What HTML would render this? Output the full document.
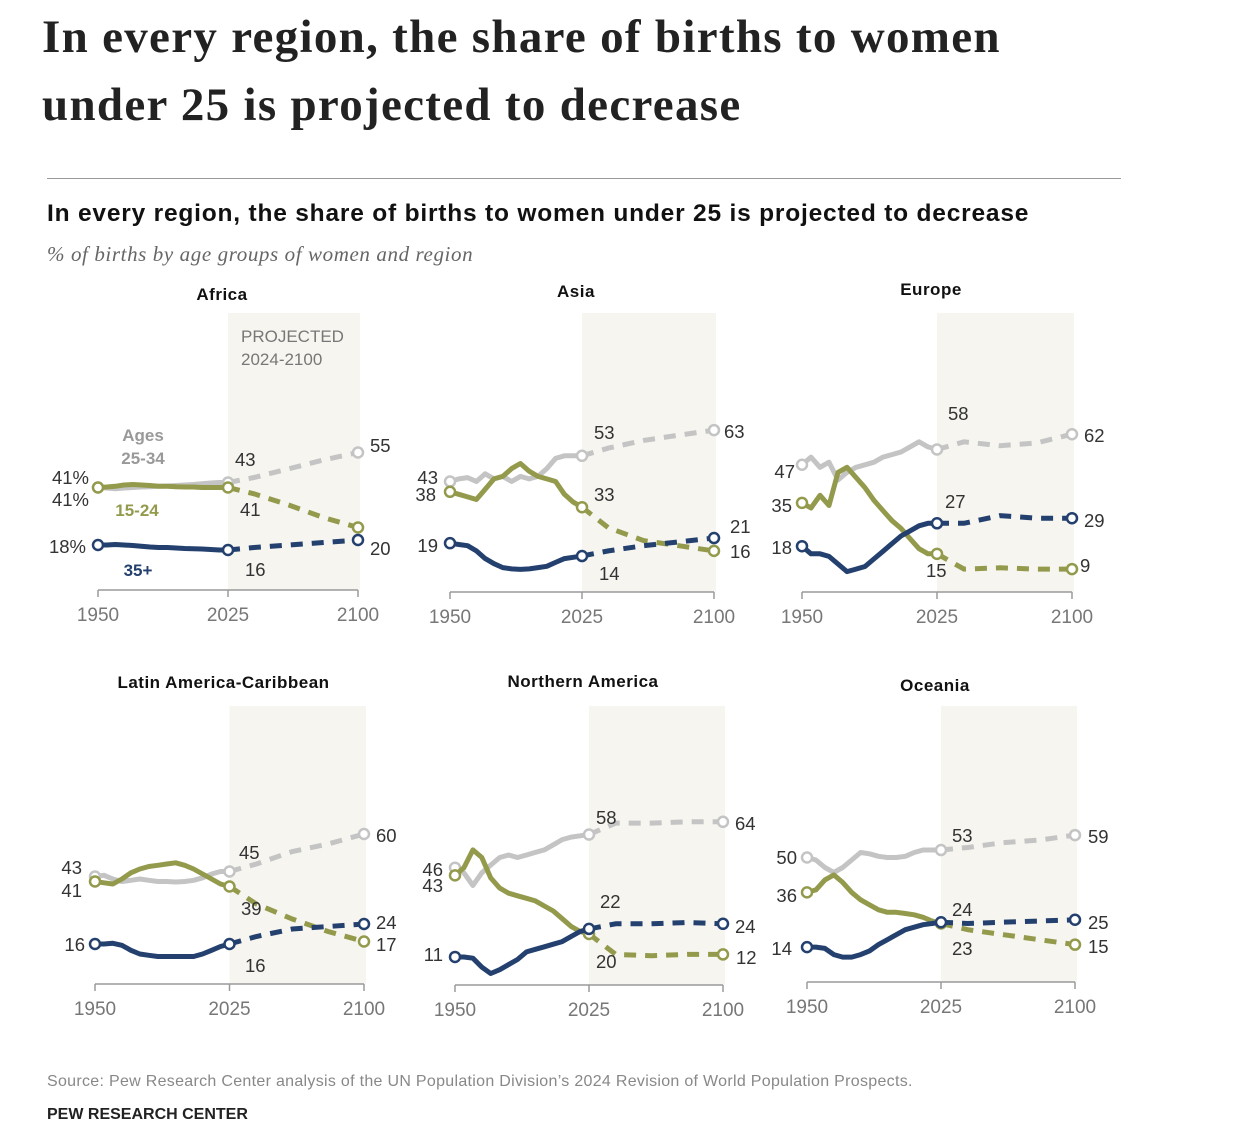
<!DOCTYPE html>
<html><head><meta charset="utf-8"><style>
body{margin:0;background:#fff;width:1252px;height:1138px;overflow:hidden;position:relative;font-family:"Liberation Sans",sans-serif}
#t{position:absolute;left:42px;top:3px;font-family:"Liberation Serif",serif;font-weight:bold;font-size:47px;line-height:68px;color:#222;letter-spacing:1.3px}
#rule{position:absolute;left:47px;top:178px;width:1074px;height:1px;background:#999}
#st{position:absolute;left:47px;top:200px;font-weight:bold;font-size:24.5px;color:#111;letter-spacing:0.8px}
#sub{position:absolute;left:47px;top:242px;font-family:"Liberation Serif",serif;font-style:italic;font-size:21px;color:#666;letter-spacing:0.6px}
#src{position:absolute;left:47px;top:1073px;font-size:16px;color:#888;letter-spacing:0.3px}
#pew{position:absolute;left:47px;top:1106px;font-size:16px;font-weight:bold;color:#222}
svg{position:absolute;left:0;top:0}
</style></head><body>
<div id="t">In every region, the share of births to women<br>under 25 is projected to decrease</div>
<div id="rule"></div>
<div id="st">In every region, the share of births to women under 25 is projected to decrease</div>
<div id="sub">% of births by age groups of women and region</div>
<div id="src">Source: Pew Research Center analysis of the UN Population Division’s 2024 Revision of World Population Prospects.</div>
<div id="pew">PEW RESEARCH CENTER</div>
<svg id="c" width="1252" height="1138"></svg>
<script>
const years=[1950,1955,1960,1965,1970,1975,1980,1985,1990,1995,2000,2005,2010,2015,2020,2025,2040,2060,2080,2100];
const regions=["Africa","Asia","Europe","Latin America-Caribbean","Northern America","Oceania"];
const africaG=[41,40.8,40.5,40.8,41,41.2,41.3,41.5,41.6,41.8,42,42.2,42.5,42.8,43,43,45,48.5,52,55];
const africaO=[41,41.2,41.5,42,42.2,42,41.8,41.5,41.5,41.3,41.2,41.2,41,41,41,41,38.5,34,29,25];
const africaN=[18,18,18.2,18,17.8,17.5,17.2,17,17,16.8,16.6,16.5,16.4,16.2,16,16,17,18,19,20];
const asiaG=[43,44,44.5,43,46,44,45,43,45,44,45,48,52,53,53,53,56,59,61,63];
const asiaO=[39,38,37,36,40,44,45,48,50,47,45,44,43,38,35,33,25,20,18,16];
const asiaN=[19,18.5,18,16,13,11,9.5,9,8.8,9,9.5,10,11.5,13,13.5,14,16,18,19.5,21];
const europeG=[50,53,49,51,44,47,49,50,51,53,54,55,57,59,57,56,59,57.5,58.5,62];
const europeO=[35,33,38,34,47,49,45,41,36,32,28,25,21,17,15,15,9,9.5,9,9];
const europeN=[18,15,15,14,11,8,9,10,13,16,19,22,24,26,27,27,27,30,29,29];
const latamG=[43,43.5,42,41,41.5,42,41.5,41,41,40.8,41,41.5,42.5,44,45,45,48,53,56,60];
const latamO=[41,40.5,40,42,44.5,46,47,47.5,48,48.5,47.5,46,44,42,40,39,32,26,21,17];
const latamN=[16,16,16.3,15.5,13.5,12,11.5,11,11,11,11,11,12,13.5,15,16,19,22,23,24];
const namG=[46,44,39,44,47,50,51,50,51,52,53,55,57,58,58.5,59,63.5,63.5,64,64];
const namO=[43,46,53,50,42,38,36,35,34,33,31,29,26,23,21,20,12,11.5,12,12];
const namN=[11,11,10.5,7,4.5,6,8,10,13,14,15,16,17,19,21,22,24,24,24.5,24];
const oceG=[50,49,46,44,46,49,52,51.5,50.5,50,50,50.5,52,53,53,53,54,56,57,59];
const oceO=[36,37,41,43,40,36,33,31,29,28,28,27.5,27,26,24.5,23.5,21,19,17,15];
const oceN=[14,14,13.5,11,10,10,11,12.5,15,17,19,21,22,23,23.5,24,23.5,24,24.5,25];
const seriesG=[africaG,asiaG,europeG,latamG,namG,oceG];
const seriesO=[africaO,asiaO,europeO,latamO,namO,oceO];
const seriesN=[africaN,asiaN,europeN,latamN,namN,oceN];
const tickYears=[1950,2025,2100];
const geo=[[98,358,590,2.5,313,300],[450,714,592,2.57,313,297],[802,1072,592,2.545,313,295],
[95,364,984,2.5,706,688],[455,723,985,2.55,706,687],[807,1075,982,2.49,706,691]];
const COL={g:"#c4c4c4",o:"#949a4c",n:"#24406e"};
const NS="http://www.w3.org/2000/svg",svg=document.getElementById('c');
function mk(t,a,p){const e=document.createElementNS(NS,t);for(const k in a)e.setAttribute(k,a[k]);(p||svg).appendChild(e);return e;}
geo.forEach((g,i)=>{
  const [x0,x1,y0,s,st,ty]=g;
  const X=yr=>x0+(yr-1950)/150*(x1-x0), Y=v=>y0-v*s;
  const grp=mk('g',{});
  
  
  const sh=mk('rect',{x:X(2025),y:st,width:X(2100)-X(2025)+2,height:y0-st,fill:"#f6f5f0"},grp);
  
  const ax=mk('line',{x1:X(1950),x2:X(2100),y1:y0,y2:y0,stroke:"#9a9a9a","stroke-width":1.5},grp);
  
  tickYears.forEach(t=>{
    mk('line',{x1:X(t),x2:X(t),y1:y0,y2:y0+7,stroke:"#9a9a9a","stroke-width":1.5},grp);
    const tx=mk('text',{x:X(t),y:y0+31,"text-anchor":"middle","font-size":19,fill:"#777"},grp);tx.textContent=t;
    
  });
  const tt=mk('text',{x:(X(1950)+X(2100))/2-6,y:ty,"text-anchor":"middle","font-size":17,"font-weight":"bold",fill:"#111","letter-spacing":0.5},grp);
  tt.textContent=regions[i];
  [['g',seriesG[i]],['o',seriesO[i]],['n',seriesN[i]]].forEach(([k,vals])=>{
    const hist=[],proj=[];
    years.forEach((yr,j)=>{const p=X(yr).toFixed(1)+','+Y(vals[j]).toFixed(1);if(yr<=2025)hist.push(p);if(yr>=2025)proj.push(p);});
    const l1=mk('polyline',{points:hist.join(' '),fill:"none",stroke:COL[k],"stroke-width":5,"stroke-linejoin":"round","stroke-linecap":"round"},grp);
    
    const l2=mk('polyline',{points:proj.join(' '),fill:"none",stroke:COL[k],"stroke-width":5,"stroke-dasharray":"12 9"},grp);
    
    [0,15,19].forEach(j=>{const c=mk('circle',{cx:X(years[j]),cy:Y(vals[j]),r:5,fill:"#fff",stroke:COL[k],"stroke-width":2.5},grp);
      });
  });
});
const labs=[
[241,342,"PROJECTED",'#777',17,'start'],[241,365,"2024-2100",'#777',17,'start'],
[143,441,"Ages",'#999',17,'middle','bold'],[143,464,"25-34",'#999',17,'middle','bold'],
[137,516,"15-24",'#949a4c',17,'middle','bold'],[138,576,"35+",'#24406e',17,'middle','bold'],
[89,484,"41%"],[89,506,"41%"],[86,553,"18%"],[235,466,"43"],[240,516,"41"],[245,576,"16"],[370,452,"55"],[370,555,"20"],
[438,484,"43"],[436,501,"38"],[438,552,"19"],[594,439,"53"],[594,501,"33"],[599,580,"14"],[724,438,"63"],[730,533,"21"],[730,558,"16"],
[795,478,"47"],[792,512,"35"],[792,554,"18"],[948,420,"58"],[945,508,"27"],[926,577,"15"],[1084,442,"62"],[1084,527,"29"],[1080,572,"9"],
[82,874,"43"],[82,897,"41"],[85,951,"16"],[239,859,"45"],[241,915,"39"],[245,972,"16"],[376,842,"60"],[376,929,"24"],[376,951,"17"],
[443,876,"46"],[443,892,"43"],[443,961,"11"],[596,824,"58"],[600,908,"22"],[596,968,"20"],[735,830,"64"],[735,933,"24"],[736,964,"12"],
[797,864,"50"],[797,902,"36"],[792,955,"14"],[952,842,"53"],[952,916,"24"],[952,955,"23"],[1088,843,"59"],[1088,929,"25"],[1088,953,"15"]];
labs.forEach(l=>{const t=mk('text',{x:l[0],y:l[1],"text-anchor":l[5]||(l[0]<450&&l[0]<200||(l[0]>780&&l[0]<800)||(l[0]>430&&l[0]<450)?'end':'start'),"font-size":l[4]||18.5,fill:l[3]||'#333',"font-weight":l[6]||'normal'});
t.textContent=l[2];});
</script>
</body></html>
